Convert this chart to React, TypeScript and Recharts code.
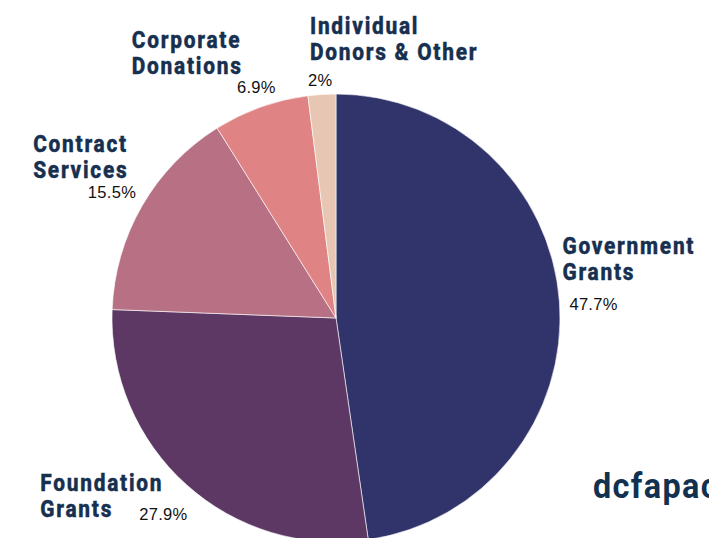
import { PieChart, Pie, Cell } from 'recharts';

const categories = ['Government|Grants', 'Foundation|Grants', 'Contract|Services', 'Corporate|Donations', 'Individual|Donors & Other'];
const shares = [47.7, 27.9, 15.5, 6.9, 2];
const pctLabels = ['47.7%', '27.9%', '15.5%', '6.9%', '2%'];

const colors = ['#30346a', '#5d3864', '#b87184', '#e08385', '#e7c7b3'];

// label offsets relative to the slice's outer mid point
const labelLayout = [
    { nx: 3, ny: -56, px: 10, py: 2, anchor: 'start' },
    { nx: -146, ny: -2, px: -47, py: 29, anchor: 'start' },
    { nx: -109, ny: -62, px: -6, py: -14, anchor: 'end' },
    { nx: -129, ny: -68, px: 15, py: -20, anchor: 'end' },
    { nx: -12, ny: -69, px: -14, py: -14, anchor: 'start' },
];

const data = categories.map((c, i) => ({ name: c, value: shares[i], pct: pctLabels[i] }));

const RAD = Math.PI / 180;
const nameStyle = { fontFamily: 'Roboto', fontWeight: 800, fontSize: 24, letterSpacing: 2 };

const renderLabel = (props: any) => {
    const { cx, cy, midAngle, outerRadius, index } = props;
    const x = cx + outerRadius * Math.cos(-midAngle * RAD);
    const y = cy + outerRadius * Math.sin(-midAngle * RAD);
    const l = labelLayout[index];
    const [line1, line2] = data[index].name.split('|');
    return (
        <g>
            <g transform={`translate(${x + l.nx},${y + l.ny}) scale(0.87,1)`}>
                <text x={0} y={0} dominantBaseline="central" fill="#17304f" stroke="#17304f" strokeWidth={0.4} style={nameStyle}>
                    <tspan x={0} dy={0}>{line1}</tspan>
                    <tspan x={0} dy={26}>{line2}</tspan>
                </text>
            </g>
            <text x={x + l.px} y={y + l.py} dominantBaseline="central" textAnchor={l.anchor} fill="#111"
                style={{ fontFamily: 'Liberation Sans', fontSize: 16.5, letterSpacing: 0.3 }}>
                {data[index].pct}
            </text>
        </g>
    );
};

const App = () => {
    return (
        <div style={{ position: 'fixed', left: 0, top: 0, width: 709, height: 538, background: '#fff', overflow: 'hidden' }}>
            <PieChart width={709} height={538} margin={{ top: 0, right: 0, bottom: 0, left: 0 }}>
                <Pie
                    data={data}
                    dataKey="value"
                    cx={336}
                    cy={318}
                    outerRadius={224}
                    startAngle={90}
                    endAngle={-270}
                    stroke="#ffffff"
                    strokeWidth={0.6}
                    label={renderLabel}
                    labelLine={false}
                    isAnimationActive={false}
                >
                    {data.map((d, i) => (
                        <Cell key={d.name} fill={colors[i]} />
                    ))}
                </Pie>
                <g transform="translate(593,498) scale(0.9,1)">
                    <text x={0} y={0} fill="#12304f"
                        style={{ fontFamily: 'Roboto', fontWeight: 700, fontSize: 36, letterSpacing: 1.5 }}>
                        dcfapac
                    </text>
                </g>
            </PieChart>
        </div>
    );
};

export default App;
